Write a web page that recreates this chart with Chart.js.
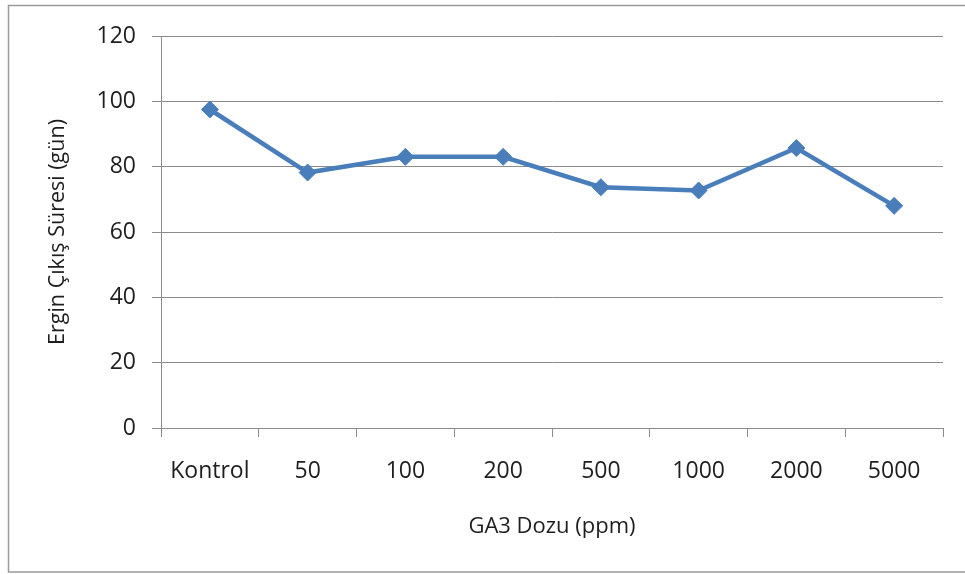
<!DOCTYPE html>
<html>
<head>
<meta charset="utf-8">
<script src="https://cdn.jsdelivr.net/npm/chart.js@4/dist/chart.umd.min.js"></script>
<style>
  html, body { margin: 0; padding: 0; background: #ffffff; }
  #wrap { width: 965px; height: 574px; position: relative; }
</style>
</head>
<body>
<div id="wrap"><canvas id="c" width="965" height="574"></canvas></div>
<script>
// GA3 dose groups and mean adult emergence time (days)
const categories = ['Kontrol', '50', '100', '200', '500', '1000', '2000', '5000'];
const emergenceDays = [97.5, 78.2, 83.0, 83.0, 73.7, 72.7, 85.7, 68.0];
const yTicks = [0, 20, 40, 60, 80, 100, 120];

const FONT = '"Open Sans", Lato, sans-serif';
const LINE_BLUE = '#4a7ebb';
const GRID_GREY = '#8c8c8c';
const TEXT = '#1e1e1e';

// Thin grey frame around the whole figure
const framePlugin = {
  id: 'frame',
  beforeDraw(chart) {
    const ctx = chart.ctx;
    ctx.save();
    ctx.fillStyle = '#ffffff';
    ctx.fillRect(0, 0, chart.width, chart.height);
    ctx.strokeStyle = '#9a9a9a';
    ctx.lineWidth = 1.5;
    ctx.beginPath();
    ctx.moveTo(chart.width + 5, 5.5);
    ctx.lineTo(8.5, 5.5);
    ctx.lineTo(8.5, 572);
    ctx.lineTo(chart.width + 5, 572);
    ctx.stroke();
    ctx.restore();
  }
};

new Chart(document.getElementById('c'), {
  type: 'line',
  data: {
    labels: categories,
    datasets: [{
      data: emergenceDays,
      borderColor: LINE_BLUE,
      backgroundColor: LINE_BLUE,
      borderWidth: 4.5,
      pointStyle: 'rectRot',
      pointRadius: 8.5,
      pointHoverRadius: 8.5,
      pointBorderWidth: 1,
      tension: 0,
      fill: false
    }]
  },
  plugins: [framePlugin],
  options: {
    responsive: false,
    animation: false,
    devicePixelRatio: 1,
    layout: { padding: { left: 0, right: 22, top: 36, bottom: 0 } },
    plugins: {
      legend: { display: false },
      tooltip: { enabled: false },
      title: { display: false }
    },
    scales: {
      x: {
        type: 'category',
        offset: true,
        grid: {
          offset: true,
          drawOnChartArea: false,
          drawTicks: true,
          tickLength: 9,
          color: GRID_GREY,
          lineWidth: 1
        },
        border: { display: true, color: GRID_GREY, width: 1 },
        ticks: {
          color: TEXT,
          font: { family: FONT, size: 23 },
          padding: 21,
          maxRotation: 0,
          autoSkip: false
        },
        title: {
          display: true,
          text: 'GA3 Dozu (ppm)',
          color: TEXT,
          font: { family: FONT, size: 22 },
          padding: { top: 0, bottom: 34 }
        },
        afterFit(scale) { scale.height = 574 - 428; }
      },
      y: {
        min: 0,
        max: 120,
        afterBuildTicks(scale) { scale.ticks = yTicks.map(v => ({ value: v })); },
        grid: {
          drawTicks: true,
          tickLength: 9,
          color: GRID_GREY,
          lineWidth: 1
        },
        border: { display: true, color: GRID_GREY, width: 1 },
        ticks: {
          color: TEXT,
          font: { family: FONT, size: 23 },
          padding: 16
        },
        title: {
          display: true,
          text: 'Ergin Çıkış Süresi (gün)',
          color: TEXT,
          font: { family: FONT, size: 21.5 },
          padding: { top: 45, bottom: 0 }
        },
        afterFit(scale) { scale.width = 161; }
      }
    }
  }
});
</script>
</body>
</html>
